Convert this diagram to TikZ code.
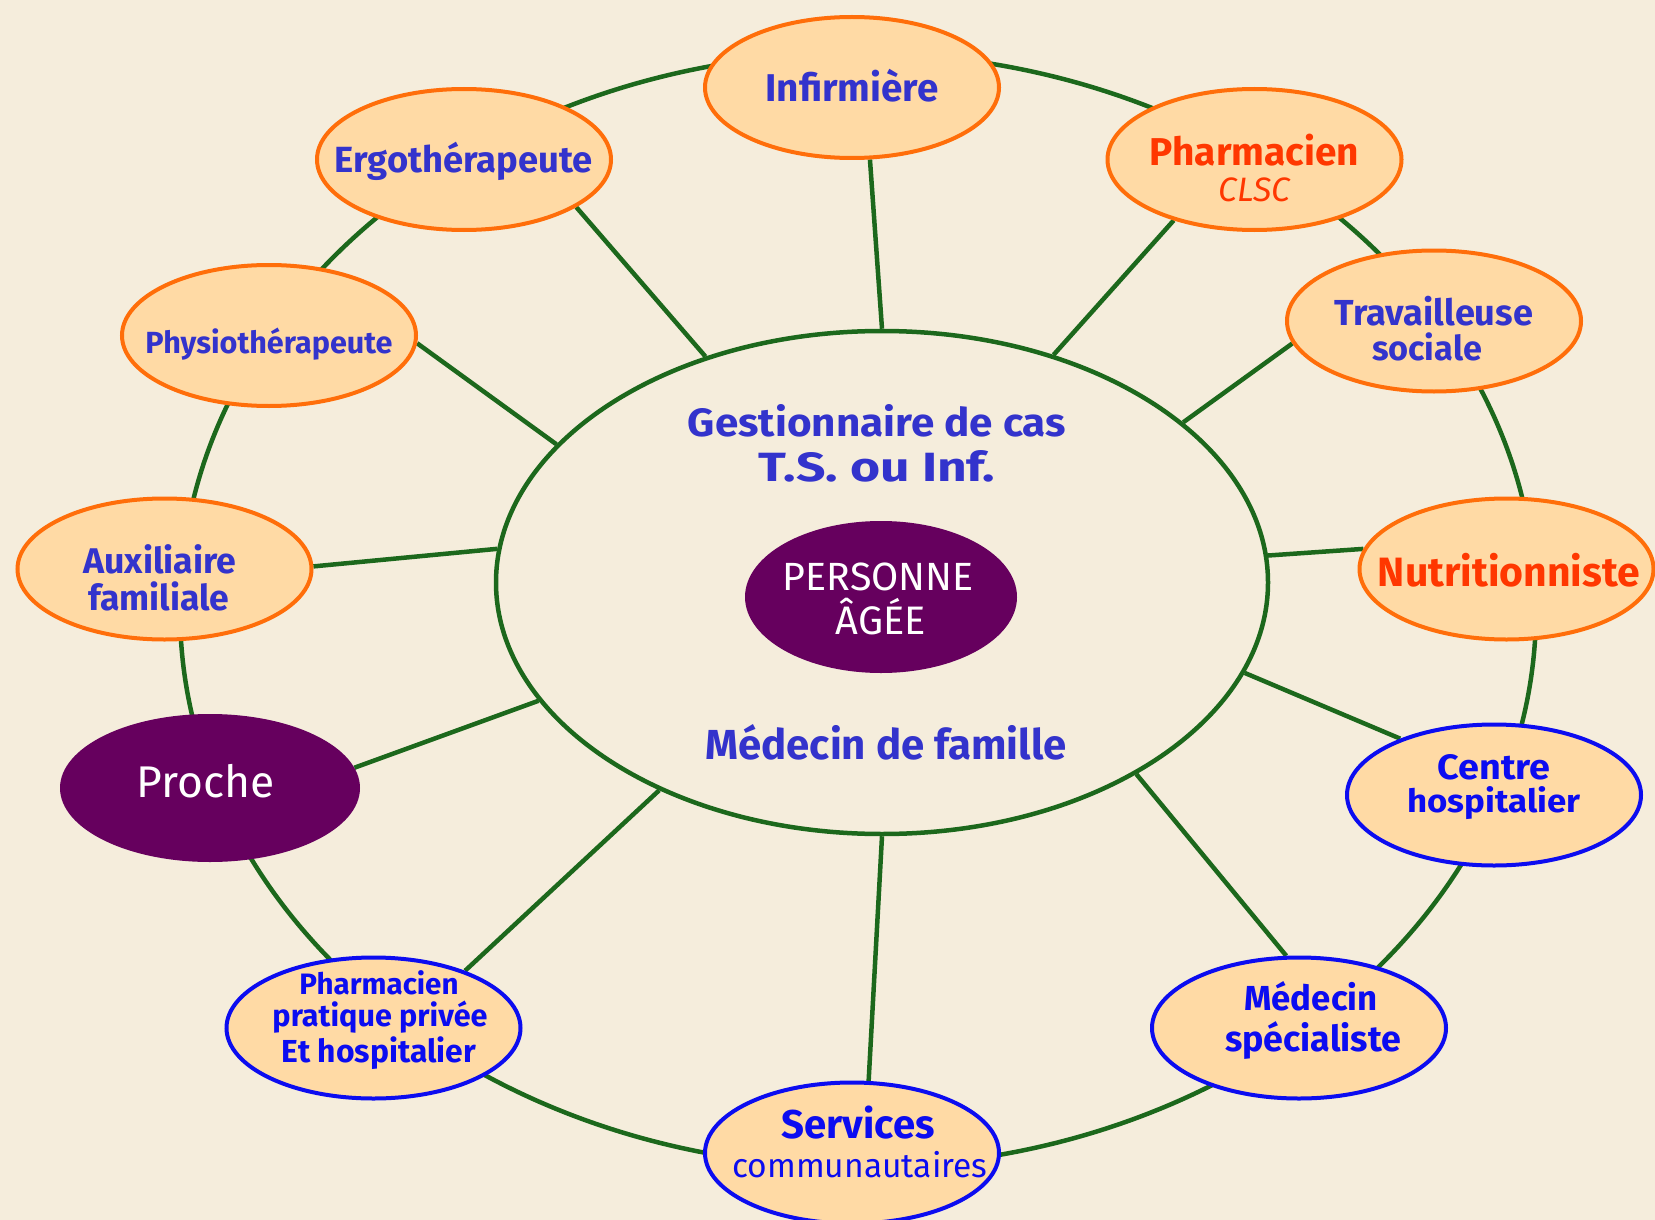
\documentclass[tikz,border=0pt]{standalone}
\usepackage{fontspec}
\setmainfont{Fira Sans}
\usepackage{graphicx}
\usetikzlibrary{shapes.geometric,backgrounds}
\definecolor{bg}{RGB}{245,237,220}
\definecolor{peach}{RGB}{255,218,165}
\definecolor{orng}{RGB}{255,110,10}
\definecolor{bluetxt}{RGB}{51,51,204}
\definecolor{bluebd}{RGB}{12,12,240}
\definecolor{redtxt}{RGB}{255,55,0}
\definecolor{purp}{RGB}{102,0,94}
\definecolor{grn}{RGB}{28,104,28}
\newcommand{\fw}[2]{\resizebox{#1pt}{!}{#2}}
\newcommand{\fwh}[3]{\resizebox{#1pt}{#2pt}{#3}}
\begin{document}
\begin{tikzpicture}[x=1pt,y=-1pt,
  oval/.style={ellipse, line width=4pt, fill=peach, inner sep=0pt, minimum width=294pt, minimum height=141pt},
  orangeoval/.style={oval, draw=orng},
  blueoval/.style={oval, draw=bluebd},
  darkoval/.style={ellipse, fill=purp, inner sep=0pt},
  txt/.style={inner sep=0pt, font=\bfseries},
  spoke/.style={draw=grn, line width=4.5pt},
]
\useasboundingbox (0,0) rectangle (1655,1220);
% outer nodes
\node[orangeoval] (inf) at (852,87.5) {};
\node[orangeoval] (ergo) at (464,159.5) {};
\node[orangeoval] (pharm) at (1254.5,159.5) {};
\node[orangeoval] (physio) at (269,335.5) {};
\node[orangeoval] (trav) at (1434,321) {};
\node[orangeoval] (aux) at (164.5,569) {};
\node[orangeoval] (nut) at (1506.5,569) {};
\node[darkoval, minimum width=300pt, minimum height=148pt] (proche) at (210,788) {};
\node[blueoval] (centre) at (1494,795) {};
\node[blueoval] (ppp) at (373.5,1028) {};
\node[blueoval] (med) at (1299,1028) {};
\node[blueoval] (serv) at (852,1153) {};
% center
\node[ellipse, draw=grn, line width=4.5pt, inner sep=0pt, minimum width=772pt, minimum height=503pt] (cm) at (882,582.5) {};
\node[darkoval, minimum width=272pt, minimum height=152pt] (pers) at (881,597) {};

% texts
\node[txt, text=bluetxt] (tinf) at (852,86) {\fw{173}{Infirmière}};
\node[txt, text=bluetxt] (tergo) at (464,161) {\fw{258}{Ergothérapeute}};
\node[txt, text=redtxt] (tph1) at (1254.5,150) {\fw{209}{Pharmacien}};
\node[inner sep=0pt, text=redtxt, font=\itshape] (tph2) at (1254.5,190) {\fw{72}{CLSC}};
\node[txt, text=bluetxt] (tphy) at (269,344) {\fw{247}{Physiothérapeute}};
\node[txt, text=bluetxt] (ttr1) at (1434,311) {\fw{198}{Travailleuse}};
\node[txt, text=bluetxt] (ttr2) at (1427,347) {\fw{110}{sociale}};
\node[txt, text=bluetxt] (tau1) at (160,559) {\fw{153}{Auxiliaire}};
\node[txt, text=bluetxt] (tau2) at (159,596) {\fw{141}{familiale}};
\node[txt, text=redtxt] (tnut) at (1509,570) {\fw{262}{Nutritionniste}};
\node[inner sep=0pt, text=white, font=\mdseries] (tpro) at (206,781) {\fw{138}{Proche}};
\node[txt, text=bluebd] (tce1) at (1494,767) {\fwh{113}{25}{Centre}};
\node[txt, text=bluebd] (tce2) at (1494,803) {\fwh{173}{26}{hospitalier}};
\node[txt, text=bluebd] (tpp1) at (379,983) {\fw{159}{Pharmacien}};
\node[txt, text=bluebd] (tpp2) at (380,1017.5) {\fw{215}{pratique privée}};
\node[txt, text=bluebd] (tpp3) at (379,1053) {\fw{194}{Et hospitalier}};
\node[txt, text=bluebd] (tme1) at (1311,996) {\fw{133}{Médecin}};
\node[txt, text=bluebd] (tme2) at (1313,1041) {\fw{176}{spécialiste}};
\node[txt, text=bluebd] (tse1) at (858,1123) {\fw{153}{Services}};
\node[inner sep=0pt, text=bluebd, font=\mdseries] (tse2) at (860,1165) {\fw{255}{communautaires}};
\node[txt, text=bluetxt] (tg1) at (877,421) {\fwh{378}{32}{Gestionnaire de cas}};
\node[txt, text=bluetxt] (tg2) at (877,466) {\fwh{236}{31}{T.S. ou Inf.}};
\node[inner sep=0pt, text=white, font=\mdseries] (tpe1) at (878,577) {\fw{191}{PERSONNE}};
\node[inner sep=0pt, text=white, font=\mdseries] (tpe2) at (881,617) {\fw{90}{ÂGÉE}};
\node[txt, text=bluetxt] (tmf) at (886,742) {\fw{361}{Médecin de famille}};

\begin{scope}[on background layer]
\fill[bg] (0,0) rectangle (1655,1220);
\draw[grn, line width=4.5pt] (858,610) ellipse [x radius=678pt, y radius=557pt];
\draw[spoke] (inf.-76.8) -- (cm.90.5);
\draw[spoke] (ergo.-23) -- (cm.128.8);
\draw[spoke] (pharm.217.1) -- (cm.53.4);
\draw[spoke] (physio.-3) -- (cm.157.4);
\draw[spoke] (trav.189.1) -- (cm.28.75);
\draw[spoke] (aux.1.2) -- (cm.175.7);
\draw[spoke] (nut.172.5) -- (cm.4.8);
\draw[spoke] (proche.8.6) -- (cm.199.2);
\draw[spoke] (centre.149.5) -- (cm.-14.5);
\draw[spoke] (ppp.32.1) -- (cm.223.1);
\draw[spoke] (med.100.5) -- (cm.-37.4);
\draw[spoke] (serv.77.5) -- (cm.-90.5);
\end{scope}
\end{tikzpicture}
\end{document}
